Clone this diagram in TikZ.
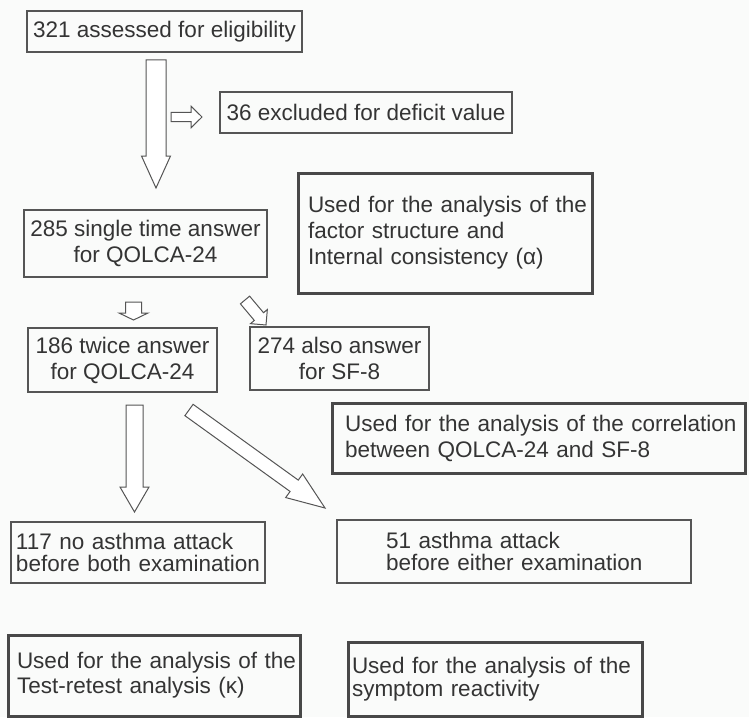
\documentclass[tikz,border=0pt]{standalone}
\usepackage{fontspec}
\setmainfont{Liberation Sans}
\usetikzlibrary{calc}
\definecolor{bg}{RGB}{250,251,250}
\definecolor{ink}{RGB}{52,52,52}
\definecolor{edge}{RGB}{85,85,85}
\definecolor{thickedge}{RGB}{72,72,72}
\newcommand\blkarrow[5]{%
  \draw[blockarrow] let \p1=(#1), \p2=(#2), \n1={atan2(\y2-\y1,\x2-\x1)} in
    ($(#1)+(\n1+90:#3)$)
    -- ($(#2)!#5!(#1)+(\n1+90:#3)$)
    -- ($(#2)!#5!(#1)+(\n1+90:#4)$)
    -- (#2)
    -- ($(#2)!#5!(#1)+(\n1-90:#4)$)
    -- ($(#2)!#5!(#1)+(\n1-90:#3)$)
    -- ($(#1)+(\n1-90:#3)$) -- cycle;}
\begin{document}
\begin{tikzpicture}[x=1pt,y=-1pt,
  every node/.style={font=\fontsize{22.5pt}{26pt}\selectfont, text=ink},
  thinbox/.style={draw=edge, line width=1.2pt, inner ysep=0pt},
  thickbox/.style={draw=thickedge, line width=3pt, inner ysep=0pt},
  blockarrow/.style={draw=edge, line width=1pt, fill=white, line join=miter}]
\fill[bg] (0,0) rectangle (749,717);
\useasboundingbox (0,0) rectangle (749,717);

% boxes
\node[thinbox, minimum width=275pt, minimum height=41pt, align=center] (n321) at (164.5,31.5) {321 assessed for eligibility};
\node[thinbox, minimum width=292pt, minimum height=41pt, align=center] (n36) at (366,112.5) {36 excluded for deficit value};
\node[thinbox, minimum width=243pt, minimum height=67pt, align=center] (n285) at (145.5,243.5) {285 single time answer\\for QOLCA-24};
\node[thickbox, inner xsep=10pt, text width=274pt, minimum height=120pt, align=left] (nfac) at (445,233) {\mbox{Used for the analysis of the}\\\mbox{factor structure and}\\\mbox{Internal consistency (α)}};
\node[thinbox, minimum width=189pt, minimum height=64pt, align=center] (n186) at (122.5,360) {186 twice answer\\for QOLCA-24};
\node[thinbox, minimum width=179pt, minimum height=63pt, align=center] (n274) at (339.5,358.5) {274 also answer\\for SF-8};
\node[thickbox, inner xsep=13pt, text width=387pt, minimum height=70pt, align=left] (ncor) at (538.5,438) {\mbox{Used for the analysis of the correlation}\\\mbox{between QOLCA-24 and SF-8}};
\node[thinbox, inner xsep=5pt, text width=244pt, minimum height=61pt, align=left, font=\fontsize{22.5pt}{22pt}\selectfont] (n117) at (138,552.5) {\mbox{117 no asthma attack}\\\mbox{before both examination}};
\node[thinbox, inner xsep=49pt, text width=256pt, minimum height=63pt, align=left, font=\fontsize{22.5pt}{22pt}\selectfont] (n51) at (514,551.5) {\mbox{51 asthma attack}\\\mbox{before either examination}};
\node[thickbox, inner xsep=9pt, text width=274pt, minimum height=81pt, align=left, font=\fontsize{22.5pt}{25pt}\selectfont] (ntest) at (154,675.5) {\mbox{Used for the analysis of the}\\\mbox{Test-retest analysis (κ)}};
\node[thickbox, inner xsep=4pt, text width=286pt, minimum height=74pt, align=left, font=\fontsize{22.5pt}{23pt}\selectfont] (nsym) at (495,679) {\mbox{Used for the analysis of the}\\\mbox{symptom reactivity}};

% block arrows
\coordinate (a1s) at (156,60);    \coordinate (a1e) at (156,188);
\coordinate (a2s) at (171,117);   \coordinate (a2e) at (202,117);
\coordinate (a3s) at (133.5,302); \coordinate (a3e) at (133.5,320);
\coordinate (a4s) at (245,300);   \coordinate (a4e) at (266,325);
\coordinate (a5s) at (134.5,405); \coordinate (a5e) at (134.5,512);
\coordinate (a6s) at (189,410);   \coordinate (a6e) at (325,508);
\blkarrow{a1s}{a1e}{10pt}{14.5pt}{32pt}
\blkarrow{a2s}{a2e}{4.7pt}{10.8pt}{11pt}
\blkarrow{a3s}{a3e}{8pt}{14.5pt}{7pt}
\blkarrow{a4s}{a4e}{6pt}{11pt}{11pt}
\blkarrow{a5s}{a5e}{8.5pt}{14.5pt}{25pt}
\blkarrow{a6s}{a6e}{7pt}{14.5pt}{38pt}
\end{tikzpicture}
\end{document}
